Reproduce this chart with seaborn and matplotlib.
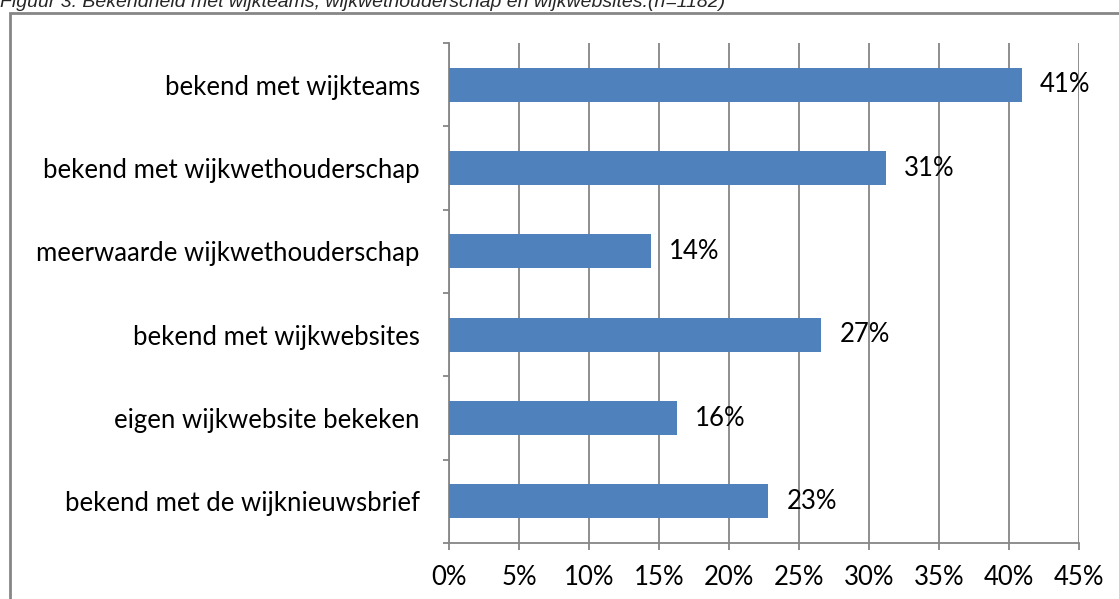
import matplotlib
matplotlib.use('Agg')
import matplotlib.pyplot as plt
from matplotlib.patches import Rectangle
from matplotlib.ticker import FixedLocator, PercentFormatter
import pandas as pd
import seaborn as sns

# data
categories = ['bekend met wijkteams', 'bekend met wijkwethouderschap', 'meerwaarde wijkwethouderschap',
              'bekend met wijkwebsites', 'eigen wijkwebsite bekeken', 'bekend met de wijknieuwsbrief']
percentages = [40.9, 31.2, 14.4, 26.6, 16.3, 22.8]
bar_labels = ['41%', '31%', '14%', '27%', '16%', '23%']
x_ticks = [0, 5, 10, 15, 20, 25, 30, 35, 40, 45]

title = 'Figuur 3: Bekendheid met wijkteams, wijkwethouderschap en wijkwebsites.(n=1182)'

sns.set_theme(style='white')
plt.rcParams['font.family'] = ['Lato', 'DejaVu Sans']

W, H = 1119, 599
fig = plt.figure(figsize=(W / 100, H / 100), dpi=100)
ax = fig.add_axes([449 / W, 1 - 543 / H, (1079 - 449) / W, (543 - 43) / H])

df = pd.DataFrame({'cat': categories, 'val': percentages})
sns.barplot(data=df, x='val', y='cat', orient='h', color='#4F81BD', saturation=1,
            width=0.41, linewidth=0, ax=ax, zorder=3)

grid_col = '#868686'
fs = 18.5
ax.set_xlim(0, 45)
ax.set_ylim(len(categories) - 0.5, -0.5)
ax.set_xticks(x_ticks)
ax.xaxis.set_major_formatter(PercentFormatter(decimals=0))
ax.xaxis.grid(True, color=grid_col, linewidth=1.3, zorder=0)
ax.yaxis.grid(False)
ax.set_xlabel('')
ax.set_ylabel('')

for s in ['top', 'right']:
    ax.spines[s].set_visible(False)
for s in ['left', 'bottom']:
    ax.spines[s].set_color(grid_col)
    ax.spines[s].set_linewidth(1.3)

ax.tick_params(axis='x', direction='out', length=5, width=1.3, color=grid_col,
               labelsize=fs, pad=11, labelcolor='black', bottom=True)
ax.tick_params(axis='y', which='major', length=0, labelsize=fs, pad=21, labelcolor='black')
ax.yaxis.set_minor_locator(FixedLocator([i - 0.5 for i in range(len(categories) + 1)]))
ax.tick_params(axis='y', which='minor', direction='out', length=4, width=1.3, color=grid_col, left=True)

for i, (v, lab) in enumerate(zip(percentages, bar_labels)):
    ax.annotate(lab, (v, i), xytext=(13, 0), textcoords='offset points',
                va='center', ha='left', fontsize=fs, color='black', zorder=4)

# outer chart border, partly outside the picture
fig.patches.append(Rectangle((10 / W, -0.1), 1.2, 1 - 13 / H + 0.1, transform=fig.transFigure,
                             fill=False, edgecolor=grid_col, linewidth=2))

fig.text(0.0, 1 - 7 / H, title, fontsize=14, fontstyle='italic', va='baseline', ha='left',
         family=['Liberation Sans', 'DejaVu Sans'])

fig.savefig('out.png', dpi=100)
